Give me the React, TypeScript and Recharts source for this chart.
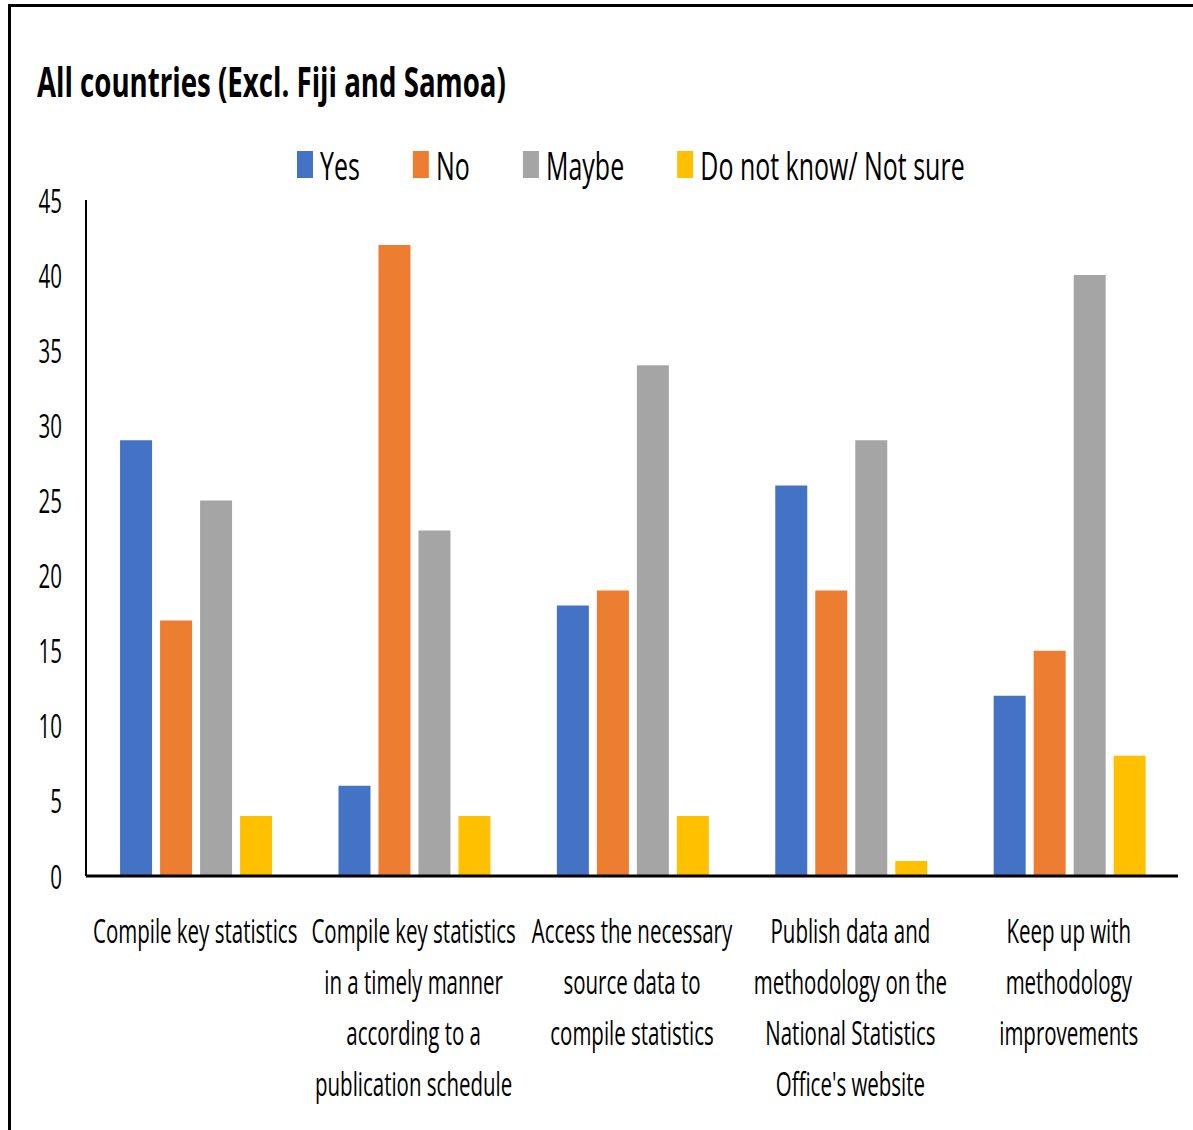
import React from 'react';
import { BarChart, Bar, XAxis, YAxis } from 'recharts';

// Survey answers, all countries excluding Fiji and Samoa
const categories = [
  'Compile key statistics',
  'Compile key statistics\nin a timely manner\naccording to a\npublication schedule',
  'Access the necessary\nsource data to\ncompile statistics',
  'Publish data and\nmethodology on the\nNational Statistics\nOffice\'s website',
  'Keep up with\nmethodology\nimprovements',
];
const yesValues = [29, 6, 18, 26, 12];
const noValues = [17, 42, 19, 19, 15];
const maybeValues = [25, 23, 34, 29, 40];
const notSureValues = [4, 4, 4, 1, 8];
const yTicks = [0, 5, 10, 15, 20, 25, 30, 35, 40, 45];

const SERIES = [
  { key: 'yes', name: 'Yes', color: '#4472C4' },
  { key: 'no', name: 'No', color: '#ED7D31' },
  { key: 'maybe', name: 'Maybe', color: '#A5A5A5' },
  { key: 'notSure', name: 'Do not know/ Not sure', color: '#FFC000' },
];

const data = categories.map((name, i) => ({
  name,
  yes: yesValues[i],
  no: noValues[i],
  maybe: maybeValues[i],
  notSure: notSureValues[i],
}));

const FONT = '"Open Sans", "DejaVu Sans", sans-serif';
// the reference text is horizontally condensed
const SX = 0.64;

const YTick = ({ x, y, payload }: any) => (
  <text
    transform={`translate(${x},${y}) scale(${SX},1)`}
    textAnchor="end"
    dominantBaseline="central"
    fontSize={32}
    fontFamily={FONT}
    fill="#000"
  >
    {payload.value}
  </text>
);

const XTick = ({ x, y, payload }: any) => {
  const lines = String(payload.value).split('\n');
  return (
    <g transform={`translate(${x},${y})`}>
      <text
        transform={`scale(${SX},1)`}
        textAnchor="middle"
        fontSize={32}
        fontFamily={FONT}
        fill="#000"
      >
        {lines.map((line, i) => (
          <tspan key={i} x={0} y={67 + i * 51}>
            {line}
          </tspan>
        ))}
      </text>
    </g>
  );
};

export default function App() {
  return (
    <div>
      {/* outer frame */}
      <div
        style={{
          position: 'absolute',
          left: 8,
          top: 4,
          width: 1185,
          height: 1126,
          boxSizing: 'border-box',
          borderTop: '3px solid #000',
          borderLeft: '3px solid #000',
        }}
      />

      <div style={{ position: 'absolute', left: 0, top: 0 }}>
        <BarChart
          width={1193}
          height={1130}
          data={data}
          margin={{ top: 200, right: 15, bottom: 0, left: 0 }}
          barCategoryGap="15.6%"
          barGap={8}
        >
          <XAxis
            dataKey="name"
            height={254}
            interval={0}
            tickLine={false}
            tickSize={0}
            tickMargin={0}
            axisLine={{ stroke: '#000', strokeWidth: 3 }}
            tick={<XTick />}
          />
          <YAxis
            width={86}
            domain={[0, 45]}
            ticks={yTicks}
            tickLine={false}
            tickSize={6}
            tickMargin={18}
            axisLine={{ stroke: '#000', strokeWidth: 2 }}
            tick={<YTick />}
          />
          {SERIES.map((s) => (
            <Bar
              key={s.key}
              dataKey={s.key}
              name={s.name}
              fill={s.color}
              isAnimationActive={false}
            />
          ))}
        </BarChart>
      </div>

      {/* Title */}
      <div
        style={{
          position: 'absolute',
          left: 37,
          top: 60,
          fontFamily: FONT,
          fontWeight: 700,
          fontSize: 42,
          lineHeight: '42px',
          whiteSpace: 'nowrap',
          color: '#000',
          transform: 'scaleX(0.658)',
          transformOrigin: 'left top',
        }}
      >
        All countries (Excl. Fiji and Samoa)
      </div>

      {/* Legend */}
      <div
        style={{
          position: 'absolute',
          left: 297,
          top: 145,
          display: 'flex',
          alignItems: 'center',
          gap: 83,
          fontFamily: FONT,
          fontSize: 39,
          lineHeight: '39px',
          whiteSpace: 'nowrap',
          color: '#000',
          transform: `scaleX(${SX})`,
          transformOrigin: 'left top',
        }}
      >
        {SERIES.map((s) => (
          <div key={s.key} style={{ display: 'flex', alignItems: 'center', gap: 11 }}>
            <span style={{ display: 'inline-block', width: 25, height: 27, background: s.color }} />
            <span>{s.name}</span>
          </div>
        ))}
      </div>
    </div>
  );
}
